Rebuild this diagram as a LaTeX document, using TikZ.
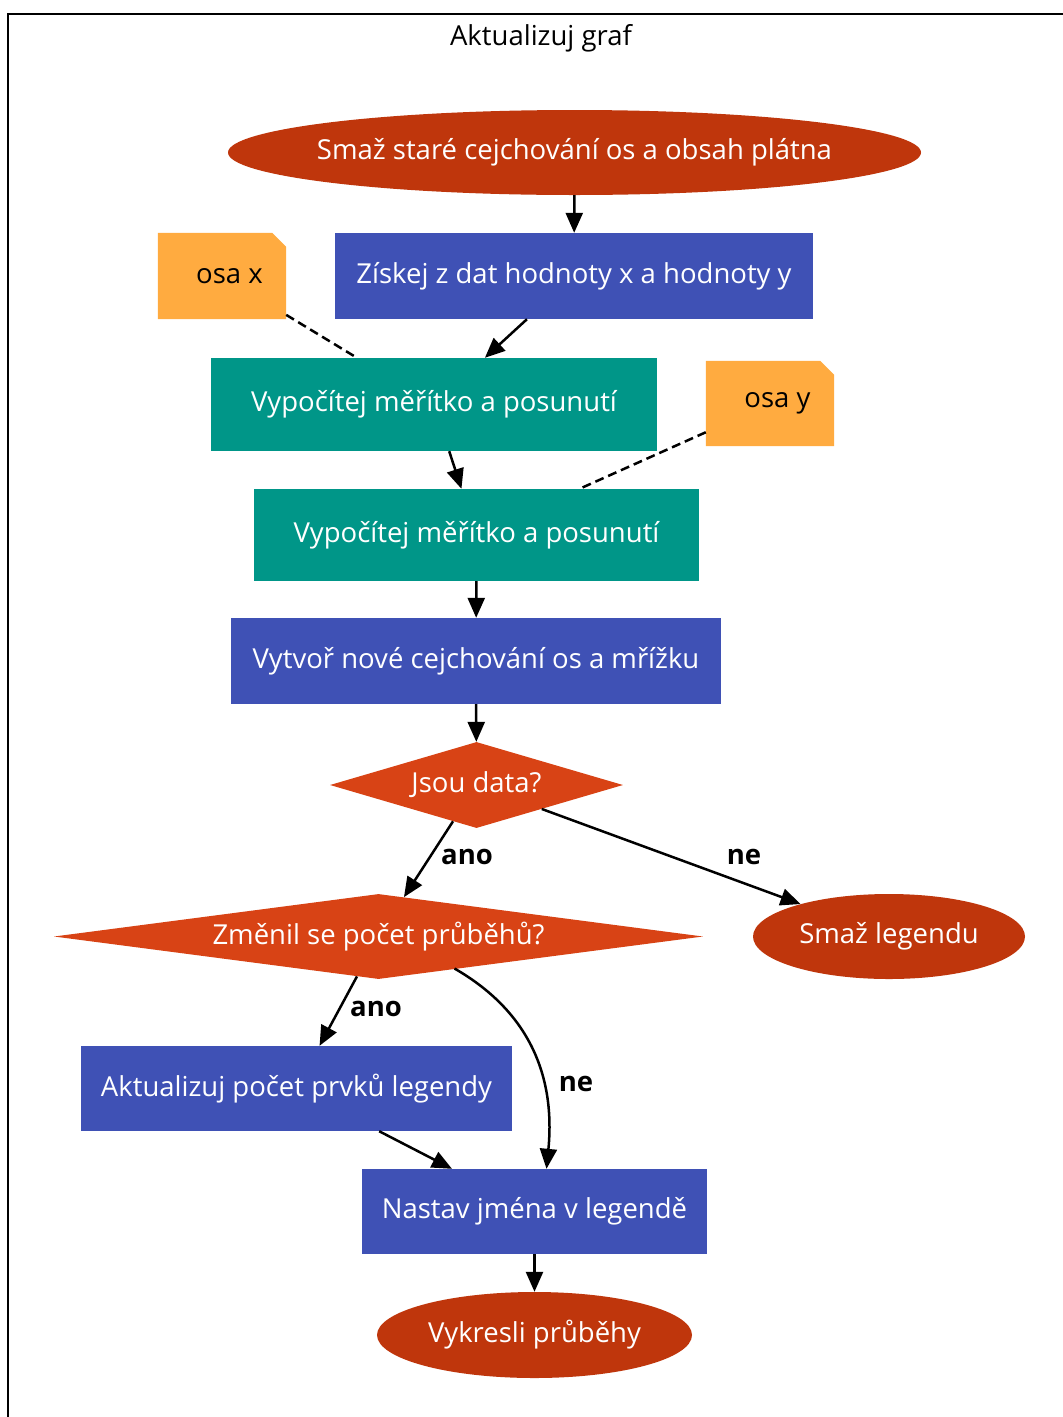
\documentclass[tikz,border=0pt]{standalone}
\usepackage{fontspec}
\setmainfont{Open Sans}
\usetikzlibrary{shapes.geometric,arrows.meta}
\definecolor{cRed}{HTML}{BF360C}
\definecolor{cDia}{HTML}{D84315}
\definecolor{cBlue}{HTML}{3F51B5}
\definecolor{cTeal}{HTML}{009688}
\definecolor{cNote}{HTML}{FFAB40}
\pgfdeclarelayer{bg}
\pgfsetlayers{bg,main}
\begin{document}
\begin{tikzpicture}[x=1pt,y=-1pt,
  font=\fontsize{27.5}{32}\selectfont,
  base/.style={inner sep=0pt, text=white},
  term/.style={base, ellipse, fill=cRed},
  proc/.style={base, rectangle, fill=cBlue},
  calc/.style={base, rectangle, fill=cTeal},
  cond/.style={base, diamond, fill=cDia},
  notebox/.style={inner sep=0pt, text=black, rectangle},
  lab/.style={inner sep=0pt, text=black, font=\fontsize{27.5}{32}\selectfont\bfseries},
  arr/.style={line width=2.5pt, -{Triangle[length=20pt,width=17pt]}},
  dashline/.style={line width=2.5pt, dash pattern=on 9pt off 5pt}]
\useasboundingbox (0,0) rectangle (1063,1417);
\draw[line width=2pt] (8,1425) -- (8,14) -- (1070,14);
\node[inner sep=0pt] (title) at (541,38) {Aktualizuj graf};

\node[term, minimum width=693pt, minimum height=85pt] (n1) at (574.5,152.5) {\makebox[0pt]{Smaž staré cejchování os a obsah plátna}};
\node[proc, minimum width=478pt, minimum height=86pt] (n2) at (574,276) {Získej z dat hodnoty x a hodnoty y};
\node[notebox, minimum width=128pt, minimum height=86pt] (ox) at (222,276) {\hspace{15pt}osa x};
\node[calc, minimum width=446pt, minimum height=93pt] (t1) at (434,404.5) {Vypočítej měřítko a posunutí};
\node[notebox, minimum width=128pt, minimum height=85pt] (oy) at (770,403.5) {\hspace{15pt}osa y};
\node[calc, minimum width=445pt, minimum height=92pt] (t2) at (476.5,535) {Vypočítej měřítko a posunutí};
\node[proc, minimum width=490pt, minimum height=86pt] (n7) at (476,661) {Vytvoř nové cejchování os a mřížku};
\node[cond, minimum width=293pt, minimum height=86pt] (d1) at (476.5,785) {\makebox[0pt]{Jsou data?}};
\node[cond, minimum width=649pt, minimum height=85pt] (d2) at (378.5,936.5) {\makebox[0pt]{Změnil se počet průběhů?}};
\node[term, minimum width=272pt, minimum height=85pt] (sl) at (889,936.5) {\makebox[0pt]{Smaž legendu}};
\node[proc, minimum width=431pt, minimum height=85pt] (al) at (296.5,1088.5) {Aktualizuj počet prvků legendy};
\node[proc, minimum width=345pt, minimum height=85pt] (nj) at (534.5,1211.5) {Nastav jména v legendě};
\node[term, minimum width=315pt, minimum height=86pt] (vp) at (534.5,1335) {\makebox[0pt]{Vykresli průběhy}};

\begin{pgfonlayer}{bg}
\foreach \n in {ox,oy}{
  \fill[cNote] (\n.south west) -- (\n.north west) -- ([xshift=-14pt]\n.north east)
     -- ([yshift=-14pt]\n.north east) -- (\n.south east) -- cycle;
}
\end{pgfonlayer}

\draw[arr] (n1) -- (n2);
\draw[arr] (n2) -- (t1);
\draw[dashline] (ox) -- (t1);
\draw[arr] (t1) -- (t2);
\draw[dashline] (oy) -- (t2);
\draw[arr] (t2) -- (n7);
\draw[arr] (n7) -- (d1);
\draw[arr] (d1) -- (d2);
\draw[arr] (d1) -- (sl);
\draw[arr] (d2) -- (al);
\draw[arr] ([shift={(76,32)}]d2.center) .. controls (525,1009) and (556,1071) .. ([xshift=12pt]nj.north);
\draw[arr] (al) -- (nj);
\draw[arr] (nj) -- (vp);

\node[lab] (l1) at (467,857) {ano};
\node[lab] (l2) at (744,857) {ne};
\node[lab] (l3) at (376,1009) {ano};
\node[lab] (l4) at (576,1084) {ne};
\end{tikzpicture}
\end{document}
